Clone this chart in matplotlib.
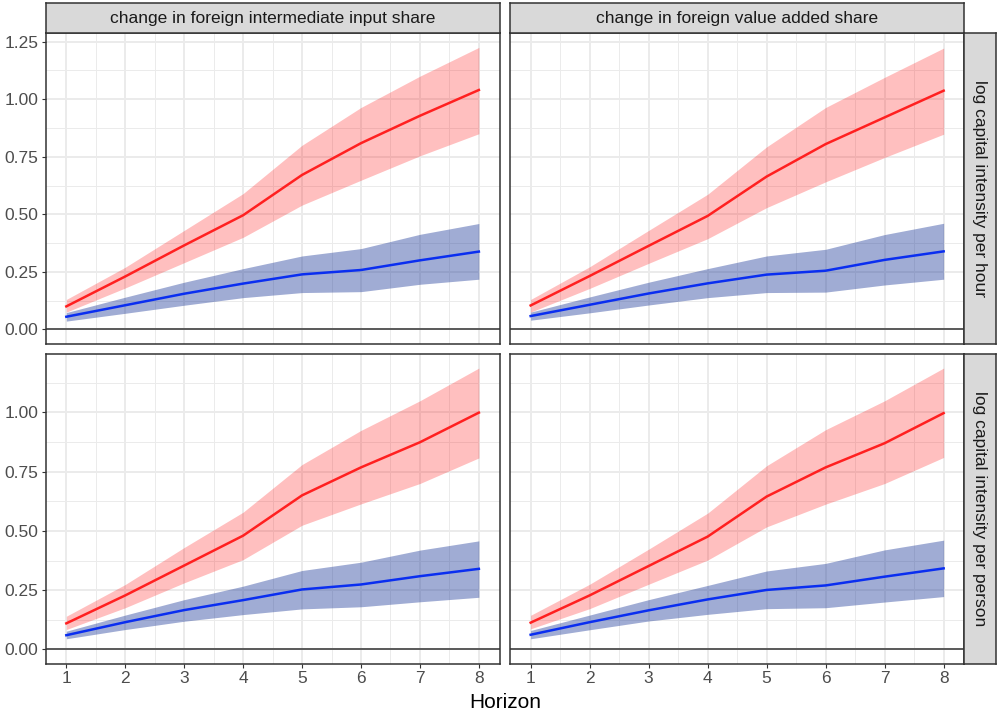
import matplotlib
matplotlib.use("Agg")
import matplotlib.pyplot as plt
import numpy as np

plt.rcParams['font.family'] = ['Liberation Sans', 'DejaVu Sans']

horizon = [1, 2, 3, 4, 5, 6, 7, 8]

col_labels = ["change in foreign intermediate input share",
              "change in foreign value added share"]
row_labels = ["log capital intensity per hour",
              "log capital intensity per person"]

# per hour, intermediate input share
hr_ii_red = [0.100, 0.230, 0.365, 0.496, 0.671, 0.809, 0.928, 1.040]
hr_ii_red_lo = [0.075, 0.180, 0.290, 0.400, 0.540, 0.648, 0.754, 0.850]
hr_ii_red_hi = [0.130, 0.270, 0.430, 0.590, 0.800, 0.964, 1.100, 1.225]
hr_ii_blue = [0.055, 0.105, 0.155, 0.199, 0.239, 0.258, 0.300, 0.338]
hr_ii_blue_lo = [0.036, 0.070, 0.105, 0.138, 0.160, 0.164, 0.196, 0.218]
hr_ii_blue_hi = [0.073, 0.140, 0.205, 0.264, 0.319, 0.351, 0.413, 0.460]

# per hour, value added share
hr_va_red = [0.104, 0.232, 0.363, 0.493, 0.664, 0.805, 0.921, 1.037]
hr_va_red_lo = [0.075, 0.178, 0.287, 0.394, 0.529, 0.641, 0.747, 0.848]
hr_va_red_hi = [0.130, 0.272, 0.430, 0.587, 0.793, 0.964, 1.095, 1.222]
hr_va_blue = [0.058, 0.107, 0.156, 0.200, 0.238, 0.255, 0.302, 0.339]
hr_va_blue_lo = [0.040, 0.072, 0.106, 0.138, 0.160, 0.162, 0.193, 0.218]
hr_va_blue_hi = [0.075, 0.141, 0.205, 0.264, 0.319, 0.348, 0.412, 0.461]

# per person, intermediate input share
ps_ii_red = [0.110, 0.228, 0.354, 0.480, 0.650, 0.768, 0.874, 0.999]
ps_ii_red_lo = [0.084, 0.176, 0.281, 0.379, 0.524, 0.614, 0.700, 0.808]
ps_ii_red_hi = [0.140, 0.274, 0.430, 0.579, 0.780, 0.924, 1.049, 1.187]
ps_ii_blue = [0.060, 0.115, 0.166, 0.208, 0.253, 0.274, 0.309, 0.340]
ps_ii_blue_lo = [0.045, 0.084, 0.119, 0.147, 0.171, 0.180, 0.201, 0.220]
ps_ii_blue_hi = [0.077, 0.145, 0.210, 0.267, 0.333, 0.368, 0.419, 0.458]

# per person, value added share
ps_va_red = [0.113, 0.228, 0.352, 0.476, 0.645, 0.768, 0.870, 0.997]
ps_va_red_lo = [0.087, 0.172, 0.275, 0.377, 0.517, 0.613, 0.700, 0.810]
ps_va_red_hi = [0.144, 0.275, 0.423, 0.575, 0.775, 0.927, 1.049, 1.187]
ps_va_blue = [0.062, 0.115, 0.165, 0.211, 0.251, 0.270, 0.307, 0.342]
ps_va_blue_lo = [0.045, 0.083, 0.120, 0.148, 0.172, 0.176, 0.200, 0.223]
ps_va_blue_hi = [0.080, 0.145, 0.210, 0.270, 0.331, 0.363, 0.420, 0.461]

panels = [
    [(hr_ii_red, hr_ii_red_lo, hr_ii_red_hi, hr_ii_blue, hr_ii_blue_lo, hr_ii_blue_hi),
     (hr_va_red, hr_va_red_lo, hr_va_red_hi, hr_va_blue, hr_va_blue_lo, hr_va_blue_hi)],
    [(ps_ii_red, ps_ii_red_lo, ps_ii_red_hi, ps_ii_blue, ps_ii_blue_lo, ps_ii_blue_hi),
     (ps_va_red, ps_va_red_lo, ps_va_red_hi, ps_va_blue, ps_va_blue_lo, ps_va_blue_hi)],
]

W, H = 997, 711
fig = plt.figure(figsize=(W / 100, H / 100), dpi=100)


def box(x0, y0, x1, y1):
    # pixel box (from top-left) -> figure fraction rect
    return [x0 / W, 1 - y1 / H, (x1 - x0) / W, (y1 - y0) / H]


col_x = [(45.7, 499.5), (510.0, 964.3)]
row_y = [(33.3, 343.5), (354.0, 663.5)]
border = '#333333'
fs = 12.5

for r in range(2):
    # shared y range per row, ggplot-style 5% expansion
    vals = [0.0]
    for c in range(2):
        for s in panels[r][c]:
            vals += list(s)
    lo, hi = min(vals), max(vals)
    pad = (hi - lo) * 0.05
    ylim = (lo - pad, hi + pad)

    for c in range(2):
        red, red_lo, red_hi, blue, blue_lo, blue_hi = panels[r][c]
        ax = fig.add_axes(box(col_x[c][0], row_y[r][0], col_x[c][1], row_y[r][1]))
        ax.set_xlim(1 - 0.35, 8 + 0.35)
        ax.set_ylim(*ylim)

        ax.set_xticks(horizon)
        ax.set_xticks(np.arange(1.5, 8, 1), minor=True)
        yt = np.arange(0, 1.26, 0.25)
        yt = yt[yt <= ylim[1]]
        ax.set_yticks(yt)
        ym = np.arange(0.125, 1.2, 0.25)
        ax.set_yticks(ym[ym <= ylim[1]], minor=True)

        ax.grid(which='major', color='#EBEBEB', lw=1.4, zorder=0)
        ax.grid(which='minor', color='#EBEBEB', lw=0.7, zorder=0)
        ax.set_axisbelow(True)

        ax.fill_between(horizon, red_lo, red_hi, color='#FF0000', alpha=0.25, lw=0, zorder=2)
        ax.fill_between(horizon, blue_lo, blue_hi, color='#123094', alpha=0.4, lw=0, zorder=2)
        ax.axhline(0, color='#333333', lw=1.1, zorder=3)
        ax.plot(horizon, red, color='#FF2020', lw=1.8, zorder=4)
        ax.plot(horizon, blue, color='#0A2EF0', lw=1.8, zorder=4)

        for sp in ax.spines.values():
            sp.set_color(border)
            sp.set_linewidth(1.1)

        ax.tick_params(which='major', length=2.7, width=0.8, color=border,
                       labelsize=fs, labelcolor='#4D4D4D', pad=2.5)
        ax.tick_params(which='minor', length=0)
        ax.yaxis.set_major_formatter(matplotlib.ticker.FormatStrFormatter('%.2f'))
        if r == 0:
            ax.tick_params(axis='x', length=0, labelbottom=False)
        if c == 1:
            ax.tick_params(axis='y', length=0, labelleft=False)

# column strips
for c in range(2):
    sax = fig.add_axes(box(col_x[c][0], 2.7, col_x[c][1], 33.3))
    sax.set_facecolor('#D9D9D9')
    sax.set_xticks([])
    sax.set_yticks([])
    for sp in sax.spines.values():
        sp.set_color(border)
        sp.set_linewidth(1.1)
    sax.text(0.5, 0.5, col_labels[c], ha='center', va='center',
             fontsize=fs, color='#1A1A1A', transform=sax.transAxes)

# row strips
for r in range(2):
    sax = fig.add_axes(box(964.3, row_y[r][0], 995.6, row_y[r][1]))
    sax.set_facecolor('#D9D9D9')
    sax.set_xticks([])
    sax.set_yticks([])
    for sp in sax.spines.values():
        sp.set_color(border)
        sp.set_linewidth(1.1)
    sax.text(0.5, 0.5, row_labels[r], ha='center', va='center', rotation=-90,
             fontsize=fs, color='#1A1A1A', transform=sax.transAxes)

fig.text(505 / W, 1 - 702 / H, "Horizon", ha='center', va='center',
         fontsize=15, color='black')

fig.savefig("out.png", dpi=100)
